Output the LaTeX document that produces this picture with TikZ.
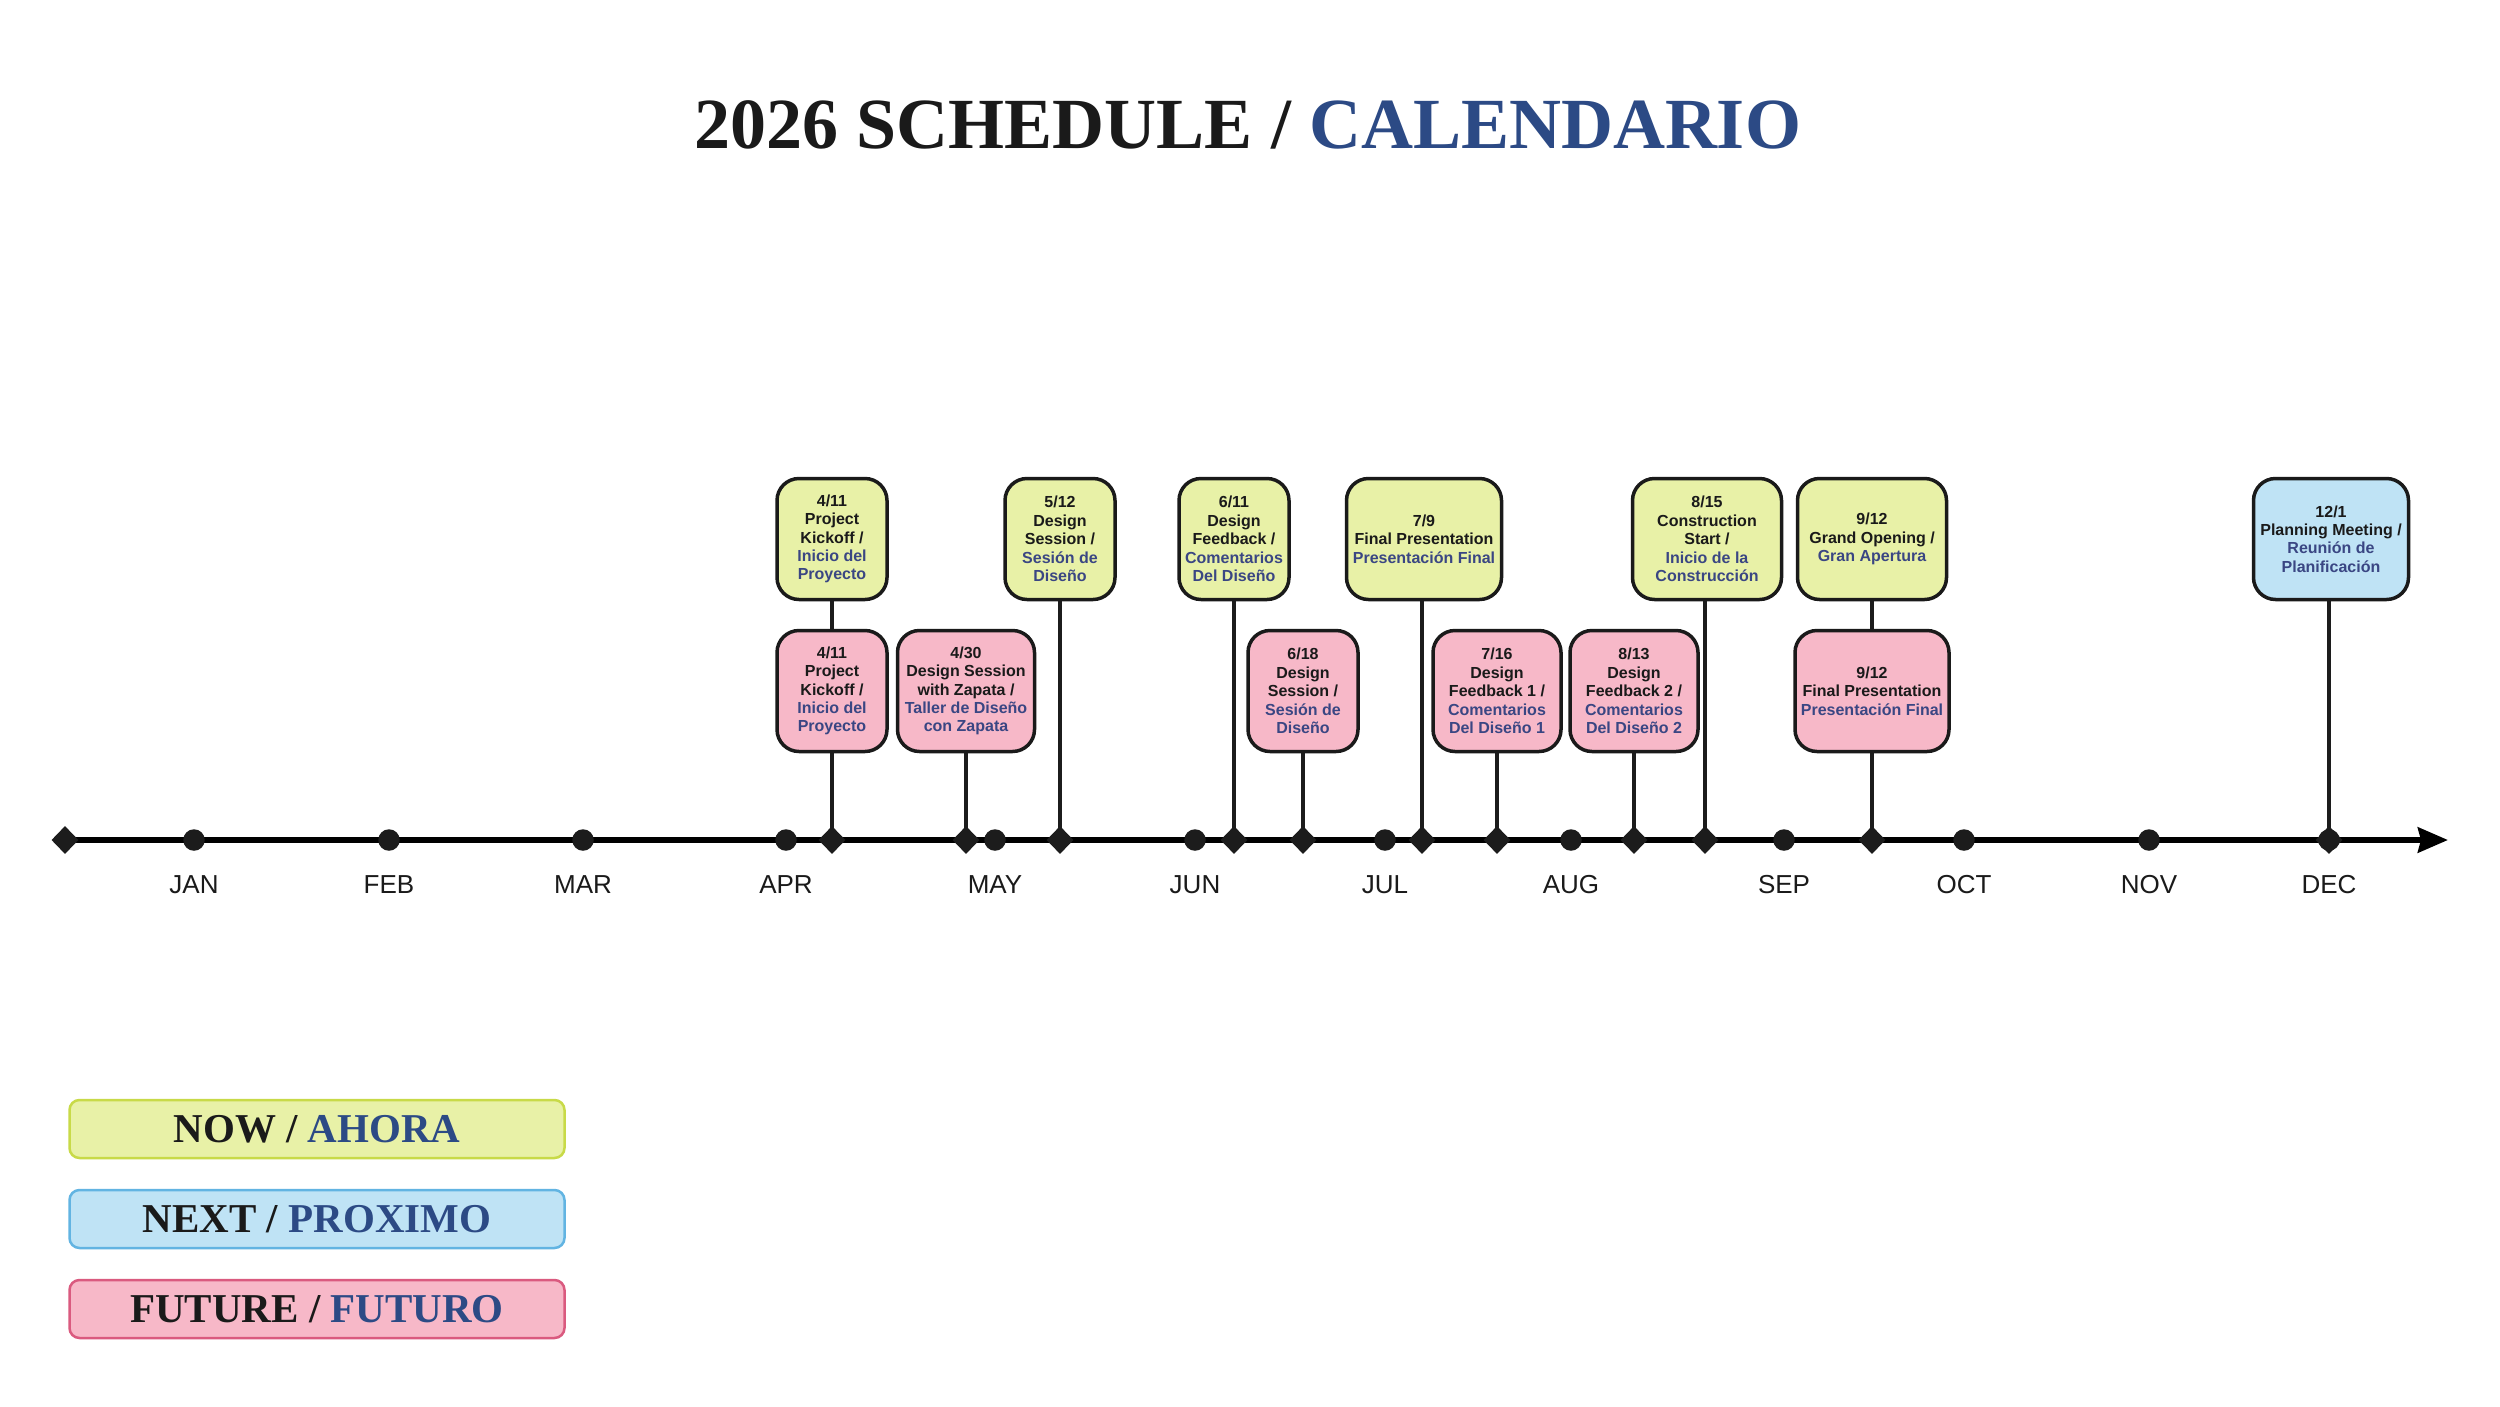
\documentclass[tikz,border=0pt]{standalone}
\usepackage{fontspec}
\setmainfont{Liberation Sans}
\newfontfamily\serifbold{Liberation Serif}
\usetikzlibrary{shapes.geometric,arrows.meta,backgrounds}
\definecolor{nowfill}{HTML}{E8F1A7}
\definecolor{nowline}{HTML}{C8DA48}
\definecolor{nextfill}{HTML}{BFE3F5}
\definecolor{nextline}{HTML}{62B4E2}
\definecolor{futfill}{HTML}{F7B8C8}
\definecolor{futline}{HTML}{DA5A7F}
\definecolor{txt}{HTML}{1A1A1A}
\definecolor{spncol}{HTML}{3A4683}
\definecolor{ttl}{HTML}{2C4A85}
\definecolor{dotc}{HTML}{1C1C1C}
\newcommand{\spn}[1]{\textcolor{spncol}{#1}}
\begin{document}
\begin{tikzpicture}[x=1pt,y=-1pt,
  evt/.style={draw=txt, line width=3.5pt, rounded corners=22pt, align=center, inner sep=0pt,
    minimum height=121pt, font=\bfseries\fontsize{16}{18.4}\selectfont, text=txt},
  yev/.style={evt, fill=nowfill},
  pev/.style={evt, fill=futfill},
  bev/.style={evt, fill=nextfill},
  mdot/.style={circle, fill=dotc, inner sep=0pt, minimum size=21.5pt},
  mdia/.style={diamond, fill=dotc, inner sep=0pt, minimum width=27pt, minimum height=28pt},
  mlab/.style={font=\fontsize{26}{30}\selectfont, text=txt},
  conn/.style={line width=4.8pt, draw=dotc},
  leg/.style={rounded corners=10pt, line width=2.5pt, minimum width=495pt, minimum height=58pt,
    font=\serifbold\bfseries\fontsize{41}{48}\selectfont, text=txt}
]
\useasboundingbox (0,0) rectangle (2500,1406);

% title
\node[font=\serifbold\bfseries\fontsize{72}{80}\selectfont, text=txt, anchor=base] (title) at (1248,148)
  {2026 SCHEDULE / \textcolor{ttl}{CALENDARIO}};

% axis markers
\node[mdia] (dstart) at (65,840) {};
\coordinate (tip) at (2448,840);
\foreach \n/\x/\m in {jan/194/JAN, feb/389/FEB, mar/583/MAR, apr/786/APR, may/995/MAY, jun/1195/JUN,
  jul/1385/JUL, aug/1571/AUG, sep/1784/SEP, oct/1964/OCT, nov/2149/NOV, dec/2329/DEC}{
  \node[mdot] (c\n) at (\x,840) {};
  \node[mlab] (l\n) at (\x,885) {\m};
}

% event diamonds
\node[mdia] (d0411) at (832,840) {};
\node[mdia] (d0430) at (966,840) {};
\node[mdia] (d0512) at (1060,840) {};
\node[mdia] (d0611) at (1234,840) {};
\node[mdia] (d0618) at (1303,840) {};
\node[mdia] (d0709) at (1422,840) {};
\node[mdia] (d0716) at (1497,840) {};
\node[mdia] (d0813) at (1634,840) {};
\node[mdia] (d0815) at (1705,840) {};
\node[mdia] (d0912) at (1872,840) {};
\node[mdia] (d1201) at (2329,840) {};

% top row
\node[yev, minimum width=110pt] (y0411) at (832,539) {4/11\\Project\\Kickoff /\\\spn{Inicio del}\\\spn{Proyecto}};
\node[yev, minimum width=110pt] (y0512) at (1060,539) {5/12\\Design\\Session /\\\spn{Sesión de}\\\spn{Diseño}};
\node[yev, minimum width=110pt] (y0611) at (1234,539) {6/11\\Design\\Feedback /\\\spn{Comentarios}\\\spn{Del Diseño}};
\node[yev, minimum width=155pt] (y0709) at (1424,539) {7/9\\Final Presentation\\\spn{Presentación Final}};
\node[yev, minimum width=149pt] (y0815) at (1707,539) {8/15\\Construction\\Start /\\\spn{Inicio de la}\\\spn{Construcción}};
\node[yev, minimum width=149pt] (y0912) at (1872,539) {9/12\\Grand Opening /\\\spn{Gran Apertura}};
\node[bev, minimum width=155pt] (b1201) at (2331,539) {12/1\\Planning Meeting /\\\spn{Reunión de}\\\spn{Planificación}};

% bottom row
\node[pev, minimum width=110pt] (p0411) at (832,691) {4/11\\Project\\Kickoff /\\\spn{Inicio del}\\\spn{Proyecto}};
\node[pev, minimum width=137pt] (p0430) at (966,691) {4/30\\Design Session\\with Zapata /\\\spn{Taller de Diseño}\\\spn{con Zapata}};
\node[pev, minimum width=110pt] (p0618) at (1303,691) {6/18\\Design\\Session /\\\spn{Sesión de}\\\spn{Diseño}};
\node[pev, minimum width=128pt] (p0716) at (1497,691) {7/16\\Design\\Feedback 1 /\\\spn{Comentarios}\\\spn{Del Diseño 1}};
\node[pev, minimum width=128pt] (p0813) at (1634,691) {8/13\\Design\\Feedback 2 /\\\spn{Comentarios}\\\spn{Del Diseño 2}};
\node[pev, minimum width=154pt] (p0912) at (1872,691) {9/12\\Final Presentation\\\spn{Presentación Final}};

% legend
\node[leg, fill=nowfill, draw=nowline] (lnow) at (317,1129) {NOW / \textcolor{ttl}{AHORA}};
\node[leg, fill=nextfill, draw=nextline] (lnext) at (317,1219) {NEXT / \textcolor{ttl}{PROXIMO}};
\node[leg, fill=futfill, draw=futline] (lfut) at (317,1309) {FUTURE / \textcolor{ttl}{FUTURO}};

\begin{scope}[on background layer]
\fill[white] (0,0) rectangle (2500,1406);
\draw[line width=6pt, draw=black, -{Stealth[length=30pt,width=25pt,inset=3pt]}] (dstart.center) -- (tip);
\draw[conn] (y0411.south) -- (p0411.north);
\draw[conn] (p0411.south) -- (d0411.center);
\draw[conn] (p0430.south) -- (d0430.center);
\draw[conn] (y0512.south) -- (d0512.center);
\draw[conn] (y0611.south) -- (d0611.center);
\draw[conn] (p0618.south) -- (d0618.center);
\draw[conn] (d0709.center |- y0709.south) -- (d0709.center);
\draw[conn] (p0716.south) -- (d0716.center);
\draw[conn] (p0813.south) -- (d0813.center);
\draw[conn] (d0815.center |- y0815.south) -- (d0815.center);
\draw[conn] (y0912.south) -- (p0912.north);
\draw[conn] (p0912.south) -- (d0912.center);
\draw[conn] (d1201.center |- b1201.south) -- (d1201.center);
\end{scope}
\end{tikzpicture}
\end{document}
